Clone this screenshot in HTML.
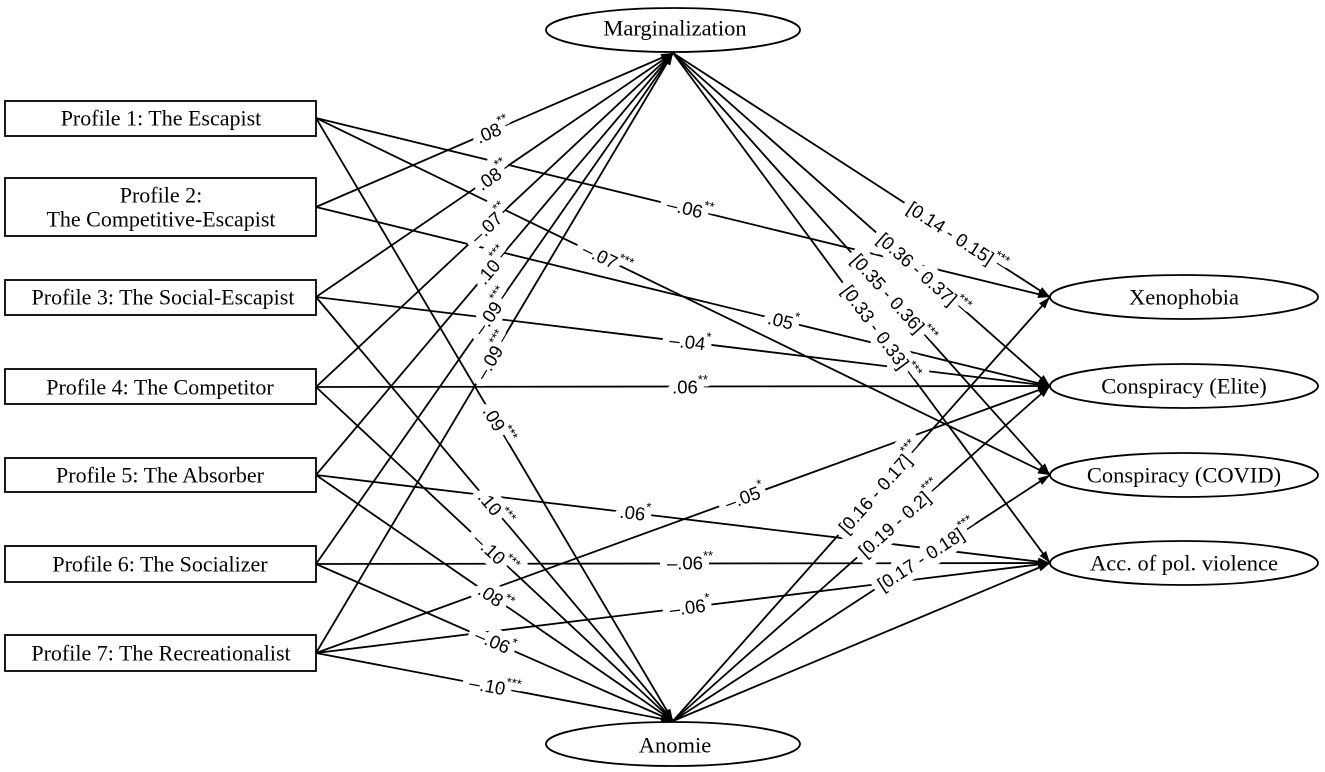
<!DOCTYPE html>
<html><head><meta charset="utf-8"><style>
html,body{margin:0;padding:0;background:#fff}
svg{display:block}
.b{font-family:"Liberation Serif",serif;font-size:22px;fill:#000}
.e{font-family:"Liberation Serif",serif;font-size:22.5px;fill:#000}
.l{font-family:"Liberation Sans",sans-serif;font-size:18.5px;fill:#000}
.h{fill:#fff;stroke:#fff;stroke-width:14px;stroke-linejoin:round}
.l tspan{font-size:13px;baseline-shift:super}
</style></head><body>
<svg width="1325" height="772" viewBox="0 0 1325 772" xmlns="http://www.w3.org/2000/svg">
<defs><marker id="a" viewBox="0 0 12 10" refX="12" refY="5" markerWidth="12" markerHeight="10" markerUnits="userSpaceOnUse" orient="auto"><path d="M0,1 L12,5 L0,9 z" fill="#000"/></marker></defs>
<g stroke="#000" stroke-width="1.8" fill="none" marker-end="url(#a)">
<line x1="316" y1="207" x2="673" y2="53"/><line x1="316" y1="297" x2="673" y2="53"/><line x1="316" y1="387" x2="673" y2="53"/><line x1="316" y1="475" x2="673" y2="53"/><line x1="316" y1="564" x2="673" y2="53"/><line x1="316" y1="653" x2="673" y2="53"/>
<line x1="316" y1="118" x2="673" y2="721"/><line x1="316" y1="297" x2="673" y2="721"/><line x1="316" y1="387" x2="673" y2="721"/><line x1="316" y1="475" x2="673" y2="721"/><line x1="316" y1="564" x2="673" y2="721"/><line x1="316" y1="653" x2="673" y2="721"/>
<line x1="316" y1="118" x2="1050" y2="297"/><line x1="316" y1="118" x2="1050" y2="475"/><line x1="316" y1="207" x2="1050" y2="386"/><line x1="316" y1="297" x2="1050" y2="386"/><line x1="316" y1="387" x2="1050" y2="386"/><line x1="316" y1="475" x2="1050" y2="563"/><line x1="316" y1="564" x2="1050" y2="563"/><line x1="316" y1="653" x2="1050" y2="563"/><line x1="316" y1="653" x2="1050" y2="386"/>
<line x1="673" y1="53" x2="1050" y2="297"/><line x1="673" y1="53" x2="1050" y2="386"/><line x1="673" y1="53" x2="1050" y2="475"/><line x1="673" y1="53" x2="1050" y2="563"/>
<line x1="673" y1="721" x2="1050" y2="297"/><line x1="673" y1="721" x2="1050" y2="386"/><line x1="673" y1="721" x2="1050" y2="475"/><line x1="673" y1="721" x2="1050" y2="563"/>
</g>
<g class="l h" text-anchor="middle" dominant-baseline="central">
<text transform="translate(493,131) rotate(-23.3)">.08<tspan>**</tspan></text>
<text transform="translate(493,176) rotate(-34.3)">.08<tspan>**</tspan></text>
<text transform="translate(490,224) rotate(-43.1)">–.07<tspan>**</tspan></text>
<text transform="translate(493,266) rotate(-49.8)">.10<tspan>***</tspan></text>
<text transform="translate(492,312) rotate(-55.1)">–.09<tspan>***</tspan></text>
<text transform="translate(493,356) rotate(-59.2)">–.09<tspan>***</tspan></text>
<text transform="translate(498,425) rotate(59.3)">.09<tspan>***</tspan></text>
<text transform="translate(495,509) rotate(49.8)">.10<tspan>***</tspan></text>
<text transform="translate(495,554) rotate(43)">–.10<tspan>***</tspan></text>
<text transform="translate(495,598) rotate(34.5)">.08<tspan>**</tspan></text>
<text transform="translate(495,642) rotate(23.6)">–.06<tspan>*</tspan></text>
<text transform="translate(495,687) rotate(10.6)">–.10<tspan>***</tspan></text>
<text transform="translate(690,209) rotate(13.7)">–.06<tspan>**</tspan></text>
<text transform="translate(607,259) rotate(25.9)">–.07<tspan>***</tspan></text>
<text transform="translate(783,321) rotate(13.7)">.05<tspan>*</tspan></text>
<text transform="translate(690,342) rotate(6.9)">–.04<tspan>*</tspan></text>
<text transform="translate(690,387)">.06<tspan>**</tspan></text>
<text transform="translate(635,513) rotate(6.8)">.06<tspan>*</tspan></text>
<text transform="translate(690,563)">–.06<tspan>**</tspan></text>
<text transform="translate(690,607) rotate(-7)">–.06<tspan>*</tspan></text>
<text transform="translate(745,497) rotate(-20)">–.05<tspan>*</tspan></text>
<text transform="translate(957,237) rotate(33)">[0.14 - 0.15]<tspan>***</tspan></text>
<text transform="translate(923,274) rotate(41.5)">[0.36 - 0.37]<tspan>***</tspan></text>
<text transform="translate(893,299) rotate(48.2)">[0.35 - 0.36]<tspan>***</tspan></text>
<text transform="translate(880,333) rotate(53.5)">[0.33 - 0.33]<tspan>***</tspan></text>
<text transform="translate(880,488) rotate(-48.3)">[0.16 - 0.17]<tspan>***</tspan></text>
<text transform="translate(900,519) rotate(-41.5)">[0.19 - 0.2]<tspan>***</tspan></text>
<text transform="translate(927,555) rotate(-33)">[0.17 - 0.18]<tspan>***</tspan></text>
</g>
<g class="l" text-anchor="middle" dominant-baseline="central">
<text transform="translate(493,131) rotate(-23.3)">.08<tspan>**</tspan></text>
<text transform="translate(493,176) rotate(-34.3)">.08<tspan>**</tspan></text>
<text transform="translate(490,224) rotate(-43.1)">–.07<tspan>**</tspan></text>
<text transform="translate(493,266) rotate(-49.8)">.10<tspan>***</tspan></text>
<text transform="translate(492,312) rotate(-55.1)">–.09<tspan>***</tspan></text>
<text transform="translate(493,356) rotate(-59.2)">–.09<tspan>***</tspan></text>
<text transform="translate(498,425) rotate(59.3)">.09<tspan>***</tspan></text>
<text transform="translate(495,509) rotate(49.8)">.10<tspan>***</tspan></text>
<text transform="translate(495,554) rotate(43)">–.10<tspan>***</tspan></text>
<text transform="translate(495,598) rotate(34.5)">.08<tspan>**</tspan></text>
<text transform="translate(495,642) rotate(23.6)">–.06<tspan>*</tspan></text>
<text transform="translate(495,687) rotate(10.6)">–.10<tspan>***</tspan></text>
<text transform="translate(690,209) rotate(13.7)">–.06<tspan>**</tspan></text>
<text transform="translate(607,259) rotate(25.9)">–.07<tspan>***</tspan></text>
<text transform="translate(783,321) rotate(13.7)">.05<tspan>*</tspan></text>
<text transform="translate(690,342) rotate(6.9)">–.04<tspan>*</tspan></text>
<text transform="translate(690,387)">.06<tspan>**</tspan></text>
<text transform="translate(635,513) rotate(6.8)">.06<tspan>*</tspan></text>
<text transform="translate(690,563)">–.06<tspan>**</tspan></text>
<text transform="translate(690,607) rotate(-7)">–.06<tspan>*</tspan></text>
<text transform="translate(745,497) rotate(-20)">–.05<tspan>*</tspan></text>
<text transform="translate(957,237) rotate(33)">[0.14 - 0.15]<tspan>***</tspan></text>
<text transform="translate(923,274) rotate(41.5)">[0.36 - 0.37]<tspan>***</tspan></text>
<text transform="translate(893,299) rotate(48.2)">[0.35 - 0.36]<tspan>***</tspan></text>
<text transform="translate(880,333) rotate(53.5)">[0.33 - 0.33]<tspan>***</tspan></text>
<text transform="translate(880,488) rotate(-48.3)">[0.16 - 0.17]<tspan>***</tspan></text>
<text transform="translate(900,519) rotate(-41.5)">[0.19 - 0.2]<tspan>***</tspan></text>
<text transform="translate(927,555) rotate(-33)">[0.17 - 0.18]<tspan>***</tspan></text>
</g>
<g stroke="#000" stroke-width="1.8" fill="#fff">
<rect x="5" y="101" width="311" height="35"/><rect x="5" y="178" width="311" height="58"/><rect x="5" y="280" width="311" height="35"/><rect x="5" y="369" width="311" height="35"/><rect x="5" y="458" width="311" height="34"/><rect x="5" y="546" width="311" height="36"/><rect x="5" y="635" width="311" height="36"/>
<ellipse cx="673" cy="30" rx="127" ry="22"/><ellipse cx="673" cy="744" rx="127" ry="22"/>
<ellipse cx="1184" cy="297" rx="134" ry="22"/><ellipse cx="1184" cy="386" rx="134" ry="22"/><ellipse cx="1184" cy="475" rx="134" ry="22"/><ellipse cx="1184" cy="563" rx="134" ry="22"/>
</g>
<g class="b" text-anchor="middle" dominant-baseline="central">
<text x="161" y="118">Profile 1: The Escapist</text>
<text x="161" y="195">Profile 2:</text><text x="161" y="219">The Competitive-Escapist</text>
<text x="163" y="297">Profile 3: The Social-Escapist</text>
<text x="160" y="387">Profile 4: The Competitor</text>
<text x="160" y="475">Profile 5: The Absorber</text>
<text x="160" y="564">Profile 6: The Socializer</text>
<text x="161" y="653">Profile 7: The Recreationalist</text>
</g>
<g class="e" text-anchor="middle" dominant-baseline="central">
<text x="675" y="28">Marginalization</text>
<text x="675" y="745">Anomie</text>
<text x="1184" y="297">Xenophobia</text>
<text x="1184" y="386">Conspiracy (Elite)</text>
<text x="1184" y="475">Conspiracy (COVID)</text>
<text x="1184" y="563">Acc. of pol. violence</text>
</g>
</svg>
</body></html>
